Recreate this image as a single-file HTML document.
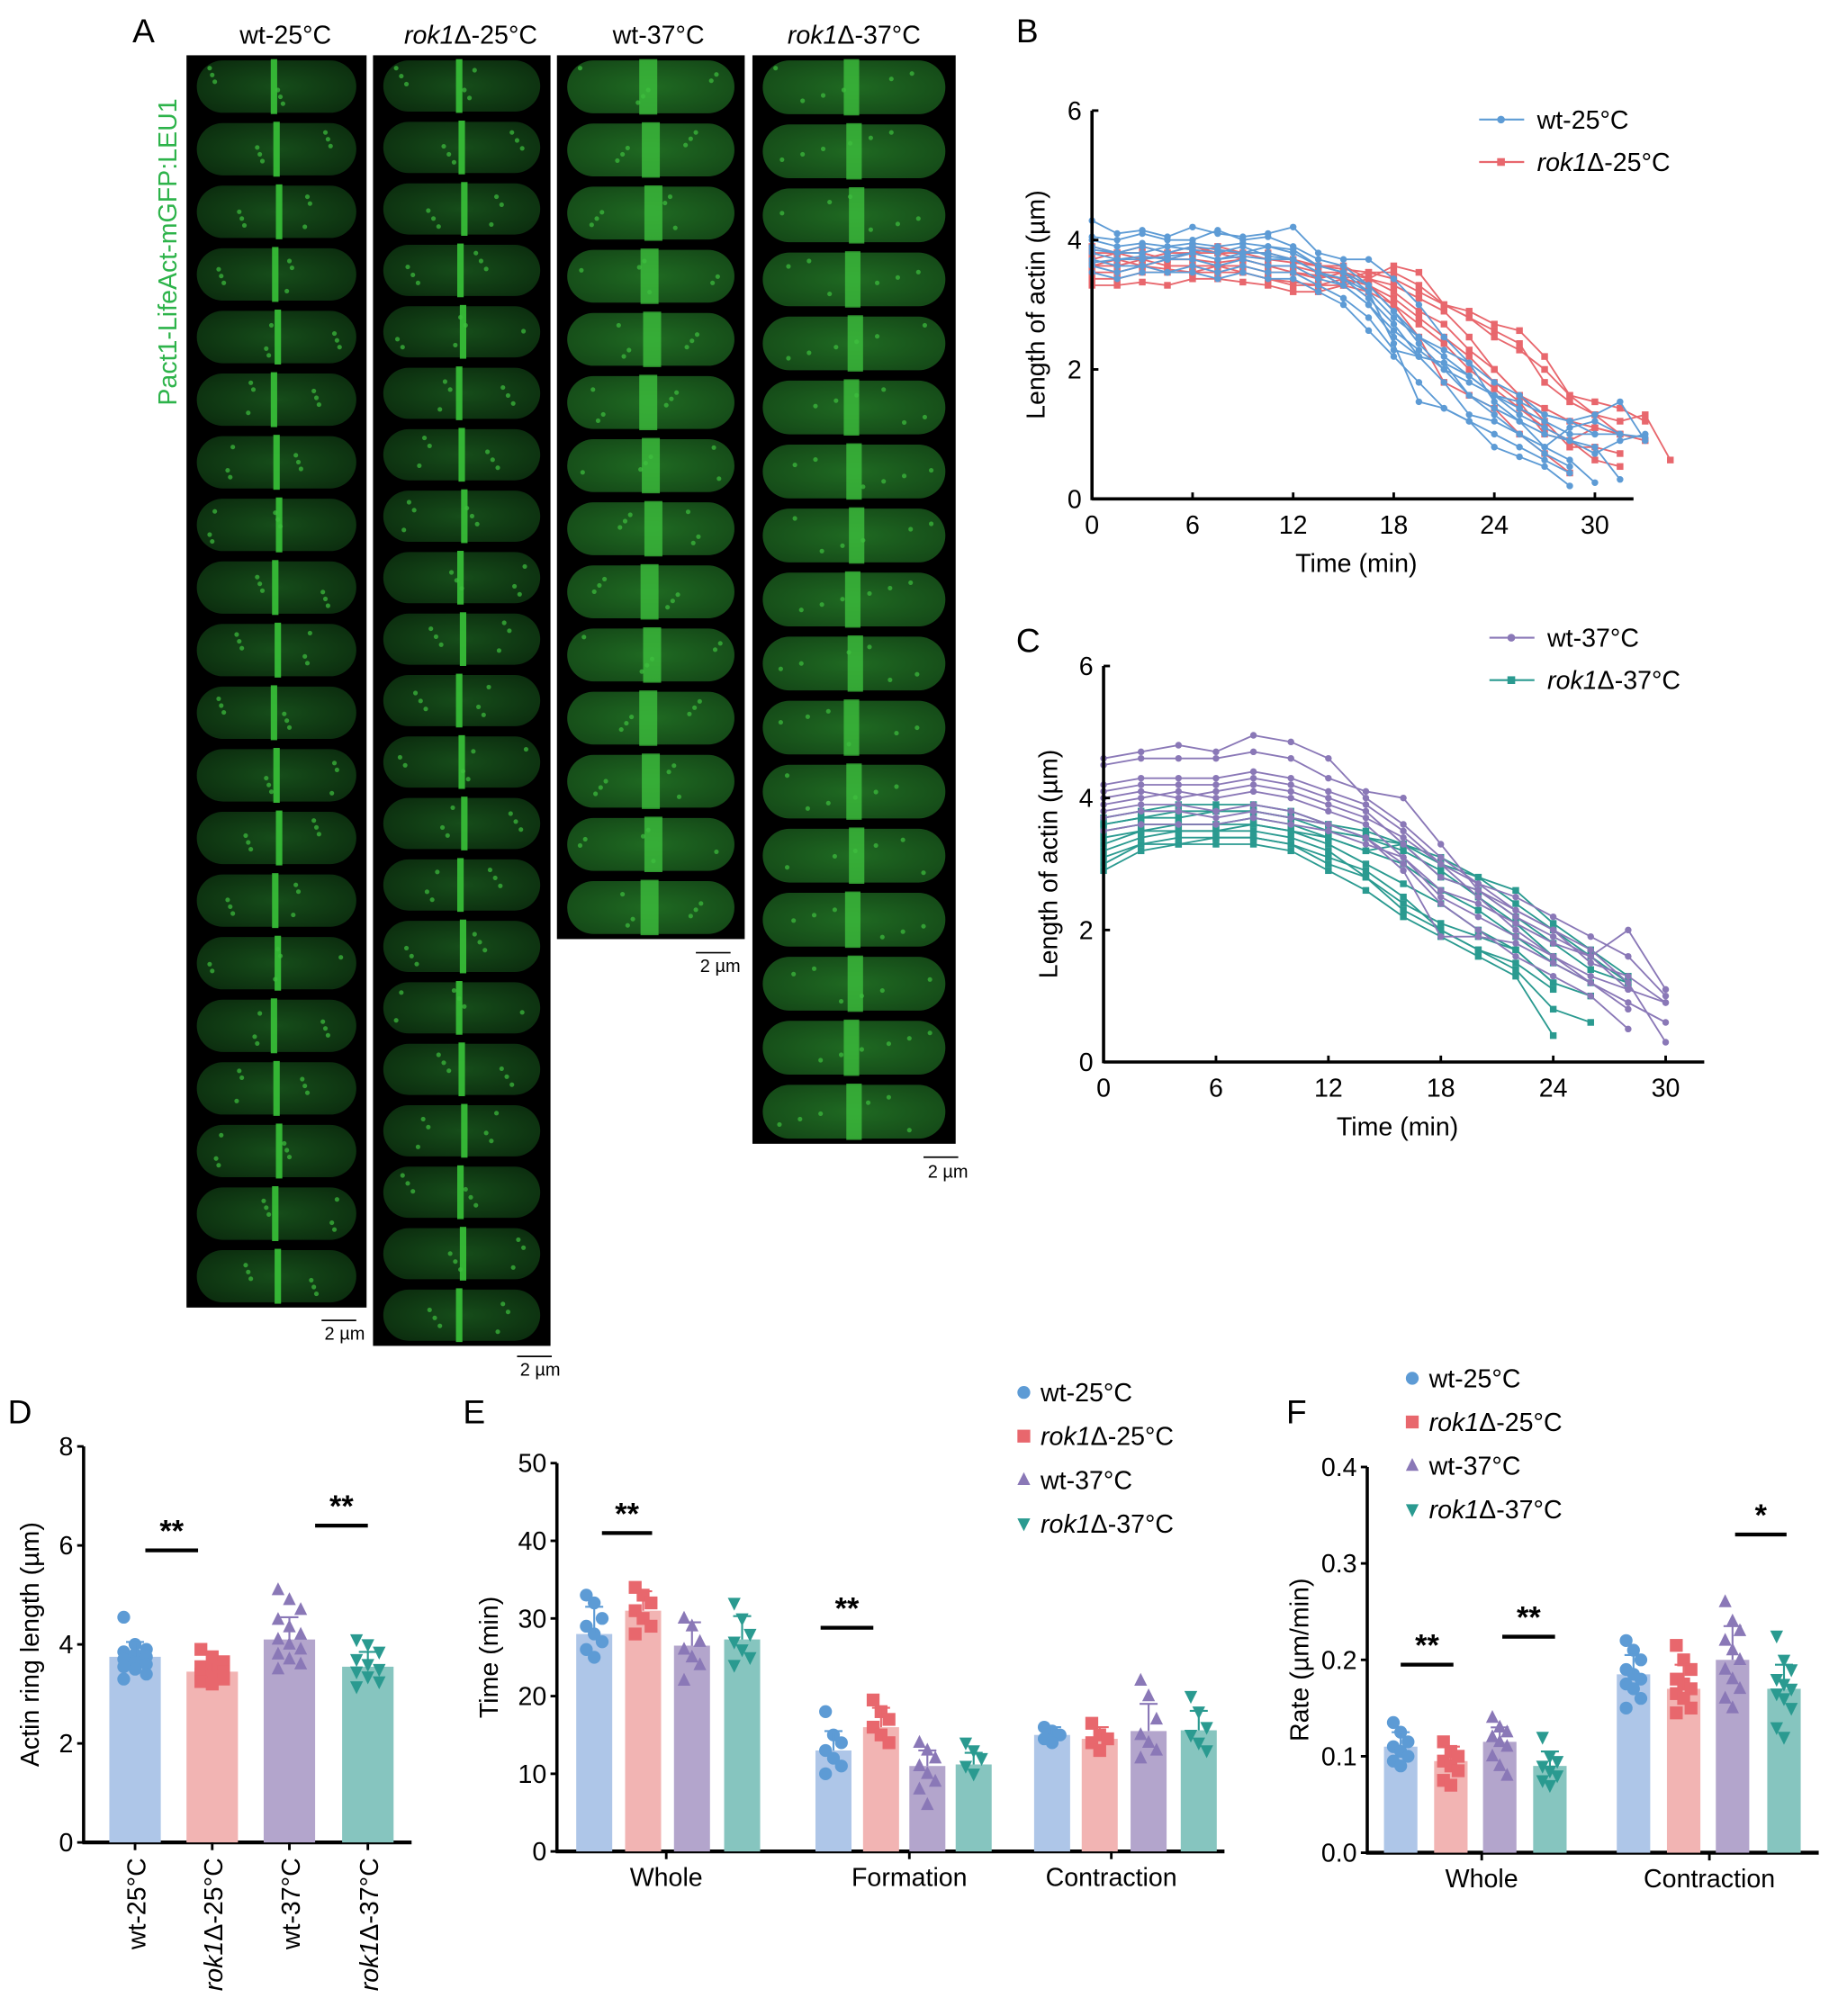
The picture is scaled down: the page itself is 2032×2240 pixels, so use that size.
<!DOCTYPE html>
<html><head><meta charset="utf-8">
<style>
html,body{margin:0;padding:0;background:#fff;}
svg{display:block;}
text{font-family:"Liberation Sans",sans-serif;fill:#000;}
</style></head>
<body>
<svg id="fig" width="2032" height="2240" viewBox="0 0 1422 1568" preserveAspectRatio="none" xmlns="http://www.w3.org/2000/svg">
<defs>
<radialGradient id="cellG" cx="50%" cy="50%" r="60%"><stop offset="0" stop-color="#164d1a"/><stop offset="1" stop-color="#0c2e0f"/></radialGradient>
<radialGradient id="cellG2" cx="50%" cy="50%" r="60%"><stop offset="0" stop-color="#1f6a22"/><stop offset="1" stop-color="#154a18"/></radialGradient>
</defs>
<g id="panelA"></g>
<g id="panelB"></g>
<g id="panelC"></g>
<g id="panelD"></g>
<g id="panelE"></g>
<g id="panelF"></g>
</svg>
<script>
// ---------- DATA ----------
const bTimeStep = 1.5;
const bWt25 = [
[4.3,4.1,4.15,4.05,4.2,4.1,4.05,4.1,4.2,3.8,3.7,3.7,3.4,3.0,2.5,2.1,1.5,1.2,0.8,0.6,0.25],
[4.05,4.0,4.1,4.0,4.0,4.15,4.0,4.05,3.9,3.7,3.6,3.3,2.9,2.4,2.0,1.6,1.3,1.0,0.7,0.5],
[3.9,3.8,3.9,3.8,3.9,3.85,3.8,3.9,3.8,3.6,3.5,3.2,2.4,1.5,1.4,1.2,0.8,0.65,0.5,0.2],
[3.8,3.7,3.7,3.75,3.8,3.7,3.75,3.7,3.7,3.5,3.4,3.1,2.7,2.2,2.1,1.6,1.4,1.2,1.0,0.9,0.8,0.3],
[3.7,3.6,3.6,3.7,3.7,3.6,3.7,3.6,3.6,3.4,3.3,3.0,2.6,2.3,2.0,1.8,1.6,1.5,1.3,1.2,1.0,1.0,0.95],
[3.6,3.5,3.6,3.5,3.6,3.5,3.6,3.5,3.5,3.3,3.1,2.8,2.3,2.2,2.1,1.9,1.6,1.4,1.2,1.0,1.0],
[3.5,3.4,3.5,3.5,3.5,3.4,3.5,3.4,3.4,3.2,3.0,2.6,2.2,1.8,1.4,1.2,1.0,0.8,0.6,0.4],
[4.0,3.9,3.95,3.9,3.95,3.9,3.95,3.9,3.85,3.6,3.5,3.3,2.9,2.5,2.3,2.1,1.8,1.6,1.3,1.2,1.3,1.5,0.9],
[3.65,3.7,3.75,3.7,3.8,3.7,3.8,3.8,3.7,3.5,3.4,3.2,2.8,2.5,2.2,1.9,1.6,1.3,1.1,0.9,0.7,0.9,1.0],
[3.85,3.8,3.8,3.9,3.85,3.8,3.9,3.75,3.7,3.5,3.3,3.0,2.5,2.2,1.8,1.3,1.2,1.0,0.8,1.1,1.2,1.0]
];
const bRok25 = [
[3.3,3.3,3.35,3.3,3.4,3.4,3.35,3.3,3.2,3.2,3.3,3.4,3.6,3.5,3.0,2.9,2.7,2.6,2.2,1.6,1.3,1.2,1.3,0.6],
[3.5,3.5,3.6,3.55,3.5,3.6,3.5,3.4,3.35,3.3,3.4,3.5,3.5,3.3,3.0,2.8,2.6,2.4,1.8,1.5,1.3,1.0],
[3.6,3.7,3.6,3.7,3.7,3.65,3.7,3.6,3.5,3.4,3.5,3.4,3.2,2.9,2.7,2.3,2.0,1.6,1.2,0.8,0.8,0.7],
[3.8,3.8,3.8,3.7,3.8,3.8,3.7,3.6,3.6,3.5,3.5,3.3,3.0,2.7,2.4,2.0,1.7,1.4,1.1,0.9,0.6,0.5],
[3.7,3.8,3.9,3.8,3.8,3.9,3.8,3.8,3.7,3.6,3.6,3.4,3.3,3.1,2.9,2.5,2.0,1.6,1.4,1.2,1.1,1.0,0.9],
[3.4,3.4,3.5,3.5,3.5,3.5,3.5,3.4,3.3,3.3,3.3,3.2,3.0,2.5,1.8,1.6,1.4,1.0,0.7,0.4],
[3.9,3.8,3.7,3.8,3.9,3.8,3.8,3.7,3.65,3.6,3.55,3.5,3.4,3.2,3.0,2.8,2.5,2.3,2.0,1.6,1.5,1.4,1.2],
[3.6,3.6,3.7,3.6,3.6,3.6,3.6,3.5,3.5,3.45,3.4,3.3,3.1,2.8,2.5,2.2,1.8,1.5,1.0,0.9,1.1,1.0]
];
const bXTicks = [0,6,12,18,24,30];
const bYTicks = [0,2,4,6];
const cTimeStep = 2;
const cWt37 = [
[4.6,4.7,4.8,4.7,4.95,4.85,4.6,4.0,3.6,3.1,2.7,2.3,2.0,1.7,1.2,0.3],
[4.5,4.6,4.6,4.6,4.7,4.6,4.3,4.1,4.0,3.3,2.6,2.2,1.9,1.6,2.0,1.1],
[4.2,4.3,4.3,4.3,4.4,4.3,4.1,3.9,3.5,3.0,2.5,2.0,1.6,1.2,0.9,0.6],
[4.1,4.2,4.2,4.2,4.3,4.2,4.0,3.8,3.3,2.8,2.6,2.3,2.0,1.5,1.3,0.9],
[3.9,4.0,4.1,4.0,4.1,4.0,3.8,3.6,3.1,2.6,2.4,2.1,1.8,1.6,1.1,0.9],
[3.8,3.9,3.9,3.8,3.9,3.8,3.6,3.4,3.0,2.4,2.0,1.6,1.3,1.0,0.5],
[3.7,3.8,3.8,3.7,3.8,3.7,3.6,3.4,2.9,1.9,1.9,1.8,1.5,1.2,0.8],
[3.5,3.6,3.6,3.6,3.7,3.6,3.5,3.3,3.1,2.5,2.2,1.9,1.6,1.3,1.1],
[4.0,4.1,4.0,4.1,4.2,4.1,3.9,3.7,3.4,3.0,2.7,2.5,2.2,1.9,1.6,1.0]
];
const cRok37 = [
[2.9,3.2,3.3,3.3,3.3,3.2,2.9,2.6,2.2,1.9,1.6,1.3,0.4],
[3.1,3.3,3.4,3.4,3.4,3.3,3.1,2.9,2.5,2.0,1.7,1.4,0.8,0.6],
[3.3,3.5,3.5,3.5,3.6,3.5,3.3,3.0,2.7,2.4,2.0,1.7,1.2,1.0],
[3.5,3.6,3.6,3.6,3.7,3.6,3.4,3.2,3.0,2.6,2.3,1.9,1.5,1.2],
[3.6,3.7,3.7,3.8,3.8,3.7,3.6,3.4,3.2,2.9,2.5,2.1,1.6],
[3.7,3.8,3.9,3.9,3.9,3.8,3.6,3.5,3.3,3.1,2.8,2.4,2.0,1.6,1.2],
[3.4,3.5,3.6,3.6,3.6,3.5,3.4,3.2,3.3,2.8,2.6,2.2,1.8,1.4,1.2],
[3.2,3.4,3.5,3.5,3.5,3.4,3.2,2.8,2.3,2.0,1.7,1.5,1.1],
[3.6,3.7,3.8,3.8,3.8,3.7,3.5,3.4,3.3,3.0,2.8,2.6,2.1,1.7,1.3],
[3.0,3.3,3.3,3.4,3.4,3.3,3.0,2.8,2.4,2.1,1.9,1.7,1.2]
];
const cXTicks = [0,6,12,18,24,30];
const cYTicks = [0,2,4,6];

const strains = ["wt-25°C","rok1Δ-25°C","wt-37°C","rok1Δ-37°C"];
const dMeans = [3.75,3.45,4.1,3.55];
const dSd = [0.3,0.2,0.45,0.3];
const dPoints = [
[4.55,4.0,3.9,3.85,3.8,3.75,3.7,3.65,3.6,3.55,3.5,3.4,3.3],
[3.9,3.75,3.65,3.55,3.5,3.45,3.4,3.35,3.3,3.25,3.2],
[5.1,4.9,4.7,4.5,4.35,4.2,4.1,4.0,3.9,3.8,3.7,3.6,3.5],
[4.1,4.0,3.85,3.7,3.6,3.5,3.45,3.35,3.25,3.15]
];
const dYTicks = [0,2,4,6,8];

const eGroups = ["Whole","Formation","Contraction"];
const eMeans = [[28,31,26.5,27.3],[13,16,11,11.2],[15,14.5,15.5,15.6]];
const eSd = [[3.5,2.5,3,3],[2.5,2.5,2,1.5],[1,1.5,3.5,2.5]];
const ePoints = [
[[33,32,30,29,28,27,26,25],[34,33,32,31,30,29,28],[30,29,27,26,25,24,22],[32,30,28,27,26,25,24]],
[[18,15,14,13,12,11,10],[19.5,18,17,16,15,14],[14,13,12,11,10,9,8,6],[14,13,12,11,10]],
[[16,15.5,15,14.5,14],[16.5,15,14.5,14,13],[22,20,17,15,14,13,12],[20,18,16,15,14,13]]
];
const eYTicks = [0,10,20,30,40,50];

const fGroups = ["Whole","Contraction"];
const fMeans = [[0.11,0.095,0.115,0.09],[0.185,0.17,0.2,0.17]];
const fSd = [[0.015,0.015,0.015,0.015],[0.02,0.025,0.035,0.025]];
const fPoints = [
[[0.135,0.125,0.115,0.11,0.105,0.1,0.095,0.09],[0.115,0.105,0.1,0.095,0.09,0.085,0.075,0.07],[0.14,0.13,0.125,0.12,0.115,0.11,0.1,0.09,0.08],[0.12,0.1,0.095,0.09,0.085,0.08,0.075,0.07]],
[[0.22,0.21,0.2,0.19,0.185,0.18,0.175,0.17,0.16,0.15],[0.215,0.2,0.19,0.18,0.175,0.17,0.165,0.16,0.15,0.145],[0.26,0.24,0.23,0.22,0.21,0.2,0.19,0.18,0.17,0.16,0.15],[0.225,0.2,0.19,0.18,0.175,0.17,0.165,0.16,0.15,0.13,0.12]]
];
const fYTicks = [0.0,0.1,0.2,0.3,0.4];

// ---------- HELPERS ----------
const NS = "http://www.w3.org/2000/svg";
const fills = ["#aec6e8","#f2b4b3","#b3a5cc","#86c5bf"];
const dots = ["#5d9bd5","#e8676d","#8a78b7","#2a9a90"];
function el(tag, attrs, parent){
  const e = document.createElementNS(NS, tag);
  for (const k in attrs) e.setAttribute(k, attrs[k]);
  parent.appendChild(e);
  return e;
}
function txt(parent, x, y, s, size, anchor, extra){
  const t = el("text", Object.assign({x:x, y:y, "font-size":size, "text-anchor":anchor||"start"}, extra||{}), parent);
  t.textContent = s;
  return t;
}
function strainText(parent, x, y, s, size, anchor, extra){
  const t = el("text", Object.assign({x:x, y:y, "font-size":size, "text-anchor":anchor||"start"}, extra||{}), parent);
  if (s.startsWith("rok1")) {
    const a = document.createElementNS(NS,"tspan"); a.setAttribute("font-style","italic"); a.textContent="rok1"; t.appendChild(a);
    const b = document.createElementNS(NS,"tspan"); b.textContent = s.slice(4); t.appendChild(b);
  } else t.textContent = s;
  return t;
}
function marker(parent, kind, x, y, r, color){
  let m;
  if (kind===0) m = el("circle",{cx:x,cy:y,r:r,fill:color},parent);
  else if (kind===1) m = el("rect",{x:x-r,y:y-r,width:2*r,height:2*r,fill:color},parent);
  else if (kind===2) m = el("polygon",{points:`${x},${y-r*1.2} ${x-r},${y+r*0.8} ${x+r},${y+r*0.8}`,fill:color},parent);
  else m = el("polygon",{points:`${x},${y+r*1.2} ${x-r},${y-r*0.8} ${x+r},${y-r*0.8}`,fill:color},parent);
  return m;
}

// ---------- PANEL A ----------
(function(){
  const g = document.getElementById("panelA");
  const lab = txt(g, 103, 33, "A", 26);
  
  
  const side = txt(g, 0, 0, "Pact1-LifeAct-mGFP:LEU1", 20, "middle", {transform:"translate(137,196) rotate(-90)", style:"fill:#2db34a"});
  
  
  const strips = [
    {x:145,w:140,y:43,n:20,h:48.7,title:0,tx:222,sb:[250,1027,268,1042],band:5,bright:false},
    {x:290,w:138,y:43,n:21,h:47.8,title:1,tx:366,sb:[402,1055,420,1070],band:5,bright:false},
    {x:433,w:146,y:43,n:14,h:49.1,title:2,tx:512,sb:[541,741,560,756],band:14,bright:true},
    {x:585,w:158,y:43,n:17,h:49.8,title:3,tx:664,sb:[718,900,737,916],band:12,bright:true}
  ];
  strips.forEach((s,si)=>{
    const sg = el("g",{},g);
    
    
    const tt = strainText(sg, s.tx, 34, strains[s.title], 20, "middle");
    
    
    el("rect",{x:s.x,y:s.y,width:s.w,height:s.n*s.h,fill:"#000"},sg);
    for(let i=0;i<s.n;i++){
      const cy = s.y + i*s.h;
      const c = el("rect",{x:s.x+8,y:cy+4,width:s.w-16,height:s.h-8,rx:(s.h-8)/2,fill:s.bright?"url(#cellG2)":"url(#cellG)"},sg);
      
      
      const cx = s.x + s.w/2 + ((i*7)%5-2);
      const band = el("rect",{x:cx-s.band/2,y:cy+3,width:s.band,height:s.h-6,fill:s.bright?"#3fc43f":"#38c238",opacity:s.bright?0.75:0.9},sg);
      
      
      for(let k=0;k<6;k++){
        const px = s.x+18 + ((i*37+k*53)%(s.w-36));
        const py = cy+10 + ((i*13+k*17)%(s.h-20));
        el("circle",{cx:px,cy:py,r:1.8,fill:"#3fbf3f",opacity:0.7},sg);
      }
    }
    el("line",{x1:s.sb[0],y1:s.sb[1],x2:s.sb[0]+27,y2:s.sb[1],stroke:"#000","stroke-width":1.2},sg);
    const sbt = txt(sg, s.sb[2], s.sb[3], "2 µm", 14, "middle", {"font-family":"Liberation Serif, serif"});
    
    
  });
})();

// ---------- LINE PANELS ----------
function linePanel(gid, letter, lx, ly, ox, oy, xpx, ypx, step, s1, s2, c1, c2, xt, yt, legY, legX, names, ylabX){
  const g = document.getElementById(gid);
  const L = txt(g, lx, ly, letter, 26);
  
  
  const X = v => ox + v*xpx, Y = v => oy - v*ypx;
  const draw = (sets,color,kind)=>{
    sets.forEach(ser=>{
      const pts = ser.map((v,i)=>X(i*step)+","+Y(v)).join(" ");
      const pl = el("polyline",{points:pts,fill:"none",stroke:color,"stroke-width":1.3},g);
      
      
      ser.forEach((v,i)=>{
        const m = marker(g, kind, X(i*step), Y(v), 2.6, color);
        
        
      });
    });
  };
  draw(s2,c2,1); draw(s1,c1,0);
  const axMax = X(xt[xt.length-1]) + 30;
  const xa = el("line",{x1:ox,y1:oy,x2:axMax,y2:oy,stroke:"#000","stroke-width":2.5},g);
  
  
  const ya = el("line",{x1:ox,y1:oy+1,x2:ox,y2:Y(yt[yt.length-1]),stroke:"#000","stroke-width":2.5},g);
  
  
  xt.forEach(t=>{
    el("line",{x1:X(t),y1:oy,x2:X(t),y2:oy-5,stroke:"#000","stroke-width":2},g);
    const tl = txt(g, X(t), oy+27, String(t), 20, "middle");
    
    
  });
  yt.forEach(t=>{
    el("line",{x1:ox,y1:Y(t),x2:ox+5,y2:Y(t),stroke:"#000","stroke-width":2},g);
    const tl = txt(g, ox-8, Y(t)+7, String(t), 20, "end");
    
    
  });
  const xl = txt(g, (ox+X(xt[xt.length-1]))/2+10, oy+57, "Time (min)", 20, "middle");
  
  
  const yl = txt(g, 0, 0, "Length of actin (µm)", 20, "middle", {transform:`translate(${ylabX},${(oy+Y(yt[yt.length-1]))/2}) rotate(-90)`});
  
  
  [[c1,0,names[0]],[c2,1,names[1]]].forEach((e,i)=>{
    const yy = legY + i*33;
    const lg = el("g",{},g);
    
    
    el("line",{x1:legX,y1:yy,x2:legX+35,y2:yy,stroke:e[0],"stroke-width":1.5},lg);
    marker(lg, e[1], legX+17, yy, 3, e[0]);
    strainText(lg, legX+45, yy+7, e[2], 20, "start");
  });
}
linePanel("panelB","B",790,33,849,388,391/30,302/6,bTimeStep,bWt25,bRok25,"#5d9bd5","#e8676d",bXTicks,bYTicks,93,1150,[strains[0],strains[1]],812);
linePanel("panelC","C",790,507,858,826,437/30,308/6,cTimeStep,cWt37,cRok37,"#8a78b7","#2a9a90",cXTicks,cYTicks,496,1158,[strains[2],strains[3]],822);

// ---------- BAR PANELS ----------
function axesY(g, ox, oy, x2, ticks, Y, fmt, label, labX){
  const xa = el("line",{x1:ox-1,y1:oy,x2:x2,y2:oy,stroke:"#000","stroke-width":3},g);
  
  
  const ya = el("line",{x1:ox,y1:oy,x2:ox,y2:Y(ticks[ticks.length-1]),stroke:"#000","stroke-width":2.5},g);
  
  
  ticks.forEach(t=>{
    el("line",{x1:ox,y1:Y(t),x2:ox-5,y2:Y(t),stroke:"#000","stroke-width":2},g);
    const tl = txt(g, ox-8, Y(t)+7, fmt(t), 20, "end");
    
    
  });
  const yl = txt(g, 0, 0, label, 20, "middle", {transform:`translate(${labX},${(oy+Y(ticks[ticks.length-1]))/2}) rotate(-90)`});
  
  
}
function bar(g, cx, w, oy, Y, mean, sd, pts, k){
  const b = el("rect",{x:cx-w/2,y:Y(mean),width:w,height:oy-Y(mean),fill:fills[k]},g);
  
  
  pts.forEach((v,i)=>{
    const jx = cx + ((i%3)-1)*w*0.22;
    const m = marker(g, k, jx, Y(v), 5, dots[k]);
    
    
  });
  const eb = el("path",{d:`M${cx},${Y(mean)} V${Y(mean+sd)} M${cx-7},${Y(mean+sd)} H${cx+7}`,stroke:dots[k],"stroke-width":1.5,fill:"none"},g);
  
  
}
function sig(g, x1, x2, y, s){
  const l = el("line",{x1:x1,y1:y,x2:x2,y2:y,stroke:"#000","stroke-width":3},g);
  
  
  const t = txt(g, (x1+x2)/2, y-7, s, 24, "middle", {"font-weight":"bold"});
  
  
}
function legend4(g, x, y0, dy){
  strains.forEach((s,k)=>{
    const lg = el("g",{},g);
    
    
    marker(lg, k, x, y0+k*dy-6, 5, dots[k]);
    strainText(lg, x+13, y0+k*dy+1, s, 20, "start");
  });
}

// D
(function(){
  const g = document.getElementById("panelD");
  const L = txt(g, 6, 1107, "D", 26);
  
  
  const oy = 1433, Y = v => oy - v*(308/8);
  const xs = [105,165,225,286];
  axesY(g, 65, oy, 320, dYTicks, Y, String, "Actin ring length (µm)", 30);
  dMeans.forEach((m,k)=>bar(g, xs[k], 40, oy, Y, m, dSd[k], dPoints[k], k));
  xs.forEach((x,k)=>{
    el("line",{x1:x,y1:oy,x2:x,y2:oy+6,stroke:"#000","stroke-width":2},g);
    const t = strainText(g, 0, 0, strains[k], 20, "end", {transform:`translate(${x+8},${oy+12}) rotate(-90)`});
    
    
  });
  sig(g,113,154,Y(5.9),"**");
  sig(g,245,286,Y(6.4),"**");
})();

// E
(function(){
  const g = document.getElementById("panelE");
  const L = txt(g, 360, 1107, "E", 26);
  
  
  const oy = 1440, Y = v => oy - v*(302/50);
  const xs = [[462,500,538,577],[648,685,721,757],[818,855,893,932]];
  const labX = [518,707,864];
  axesY(g, 433, oy, 952, eYTicks, Y, String, "Time (min)", 387);
  eMeans.forEach((grp,gi)=>grp.forEach((m,k)=>bar(g, xs[gi][k], 28, oy, Y, m, eSd[gi][k], ePoints[gi][k], k)));
  eGroups.forEach((s,gi)=>{
    el("line",{x1:labX[gi],y1:oy,x2:labX[gi],y2:oy+6,stroke:"#000","stroke-width":2},g);
    const t = txt(g, labX[gi], oy+27, s, 20, "middle");
    
    
  });
  sig(g,468,507,Y(41),"**");
  sig(g,638,679,Y(28.8),"**");
  legend4(g, 796, 1089, 34);
})();

// F
(function(){
  const g = document.getElementById("panelF");
  const L = txt(g, 1000, 1107, "F", 26);
  
  
  const oy = 1441, Y = v => oy - v*(300/0.4);
  const xs = [[1089,1128,1166,1205],[1270,1309,1347,1387]];
  const labX = [1152,1329];
  axesY(g, 1063, oy, 1414, fYTicks, Y, v=>v.toFixed(1), "Rate (µm/min)", 1017);
  fMeans.forEach((grp,gi)=>grp.forEach((m,k)=>bar(g, xs[gi][k], 26, oy, Y, m, fSd[gi][k], fPoints[gi][k], k)));
  fGroups.forEach((s,gi)=>{
    el("line",{x1:labX[gi],y1:oy,x2:labX[gi],y2:oy+6,stroke:"#000","stroke-width":2},g);
    const t = txt(g, labX[gi], oy+27, s, 20, "middle");
    
    
  });
  sig(g,1089,1130,Y(0.195),"**");
  sig(g,1168,1209,Y(0.224),"**");
  sig(g,1349,1389,Y(0.33),"*");
  legend4(g, 1098, 1078, 34);
})();
</script>
</body></html>
